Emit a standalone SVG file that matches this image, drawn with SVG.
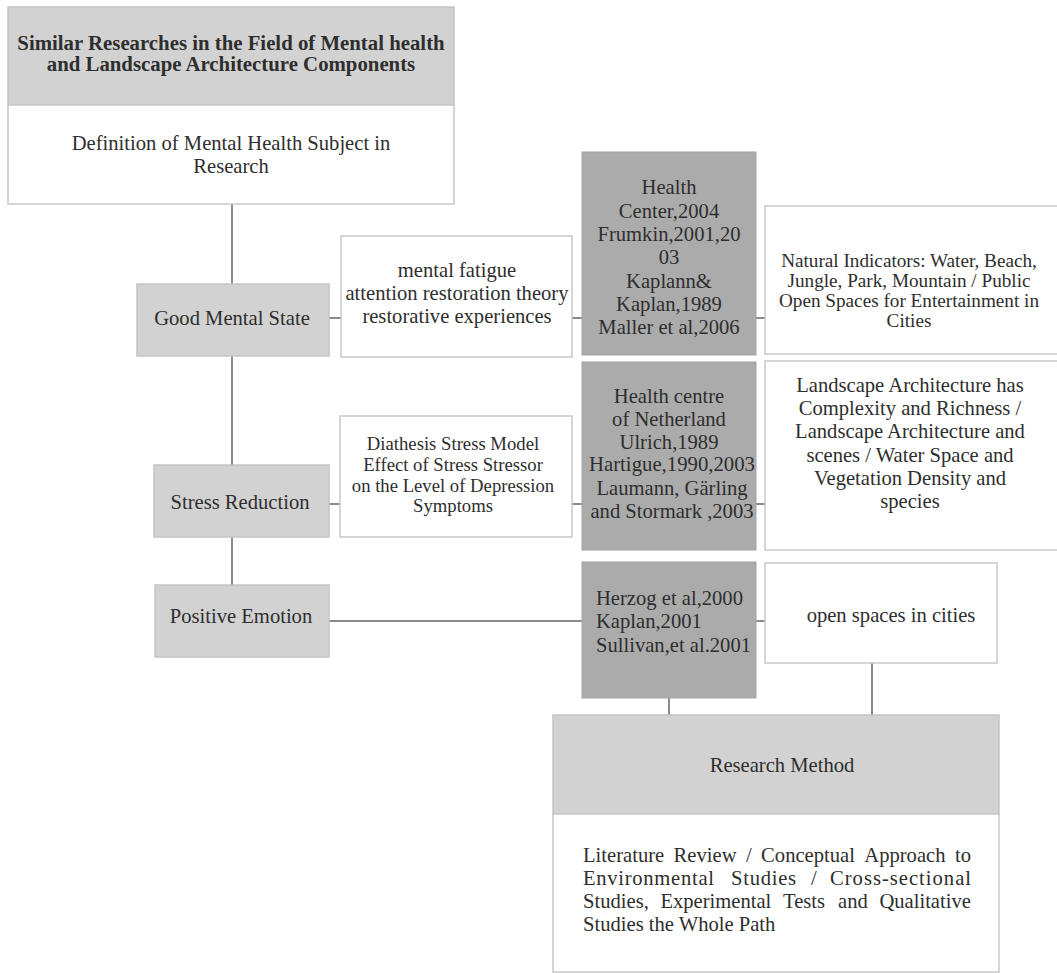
<svg xmlns="http://www.w3.org/2000/svg" width="1057" height="973" viewBox="0 0 1057 973">
<style>
text{font-family:"Liberation Serif","Times New Roman",serif;fill:#2e2e2e;font-size:20.6px}
.c{text-anchor:middle}
.b{font-weight:bold;font-size:20.8px}
.s{font-size:19.2px}
.m{font-size:18.7px}
.lg{fill:#d2d2d2;stroke:#c4c4c4;stroke-width:1.5}
.dg{fill:#ababab;stroke:#a4a4a4;stroke-width:1}
.wb{fill:#ffffff;stroke:#c8c8c8;stroke-width:1.5}
.ln{stroke:#8a8a8a;stroke-width:2;fill:none}
</style>
<rect width="1057" height="973" fill="#ffffff"/>
<g id="connectors">
<path class="ln" d="M232 204V284M232 356V465M232 537V585"/>
<path class="ln" d="M329 318H341M572 318H582M756 318H765"/>
<path class="ln" d="M329 504H340M572 504H582M756 504H765"/>
<path class="ln" d="M329 621H582M756 621H765"/>
<path class="ln" d="M669 698V715M872 663V715"/>
</g>
<g id="title">
<rect class="lg" x="8" y="7" width="446" height="98"/>
<text class="c b" x="231" y="50">Similar Researches in the Field of Mental health</text>
<text class="c b" x="231" y="71">and Landscape Architecture Components</text>
</g>
<g id="definition">
<rect class="wb" x="8" y="105" width="446" height="99"/>
<text class="c" x="231" y="150">Definition of Mental Health Subject in</text>
<text class="c" x="231" y="173">Research</text>
</g>
<g id="good-mental-state">
<rect class="lg" x="137" y="284" width="192" height="72"/>
<text class="c" x="232" y="325">Good Mental State</text>
</g>
<g id="stress-reduction">
<rect class="lg" x="154" y="465" width="175" height="72"/>
<text class="c" x="240" y="509">Stress Reduction</text>
</g>
<g id="positive-emotion">
<rect class="lg" x="155" y="585" width="174" height="72"/>
<text class="c" x="241" y="623">Positive Emotion</text>
</g>
<g id="mental-fatigue">
<rect class="wb" x="341" y="236" width="231" height="121"/>
<text class="c" x="457" y="277">mental fatigue</text>
<text class="c" x="457" y="300">attention restoration theory</text>
<text class="c" x="457" y="323">restorative experiences</text>
</g>
<g id="health-center">
<rect class="dg" x="582" y="152" width="174" height="203"/>
<text class="c" x="669" y="194">Health</text>
<text class="c" x="669" y="218">Center,2004</text>
<text class="c" x="669" y="241">Frumkin,2001,20</text>
<text class="c" x="669" y="264">03</text>
<text class="c" x="669" y="288">Kaplann&amp;</text>
<text class="c" x="669" y="311">Kaplan,1989</text>
<text class="c" x="669" y="334">Maller et al,2006</text>
</g>
<g id="natural-indicators">
<rect class="wb" x="765" y="206" width="300" height="148"/>
<text class="c s" x="909" y="267">Natural Indicators: Water, Beach,</text>
<text class="c s" x="909" y="287">Jungle, Park, Mountain / Public</text>
<text class="c s" x="909" y="307">Open Spaces  for Entertainment in</text>
<text class="c s" x="909" y="327">Cities</text>
</g>
<g id="diathesis">
<rect class="wb" x="340" y="416" width="232" height="121"/>
<text class="c m" x="453" y="450">Diathesis Stress Model</text>
<text class="c m" x="453" y="471">Effect of Stress Stressor</text>
<text class="c m" x="453" y="492">on the Level of Depression</text>
<text class="c m" x="453" y="512">Symptoms</text>
</g>
<g id="health-centre-netherland">
<rect class="dg" x="582" y="362" width="174" height="188"/>
<text class="c" x="669" y="403">Health centre</text>
<text class="c" x="669" y="426">of Netherland</text>
<text class="c" x="669" y="449">Ulrich,1989</text>
<text class="c" x="672" y="471" textLength="166" lengthAdjust="spacingAndGlyphs">Hartigue,1990,2003</text>
<text class="c" x="672" y="495">Laumann, Gärling</text>
<text class="c" x="672" y="518">and Stormark ,2003</text>
</g>
<g id="landscape">
<rect class="wb" x="765" y="361" width="300" height="189"/>
<text class="c" x="910" y="392">Landscape Architecture has</text>
<text class="c" x="910" y="415">Complexity and Richness /</text>
<text class="c" x="910" y="438">Landscape Architecture and</text>
<text class="c" x="910" y="462">scenes / Water Space and</text>
<text class="c" x="910" y="485">Vegetation Density and</text>
<text class="c" x="910" y="508">species</text>
</g>
<g id="herzog">
<rect class="dg" x="582" y="562" width="174" height="136"/>
<text x="596" y="605">Herzog et al,2000</text>
<text x="596" y="628">Kaplan,2001</text>
<text x="596" y="652">Sullivan,et al.2001</text>
</g>
<g id="open-spaces">
<rect class="wb" x="765" y="563" width="232" height="100"/>
<text class="c" x="891" y="622">open spaces in cities</text>
</g>
<g id="research-method">
<rect class="lg" x="553" y="715" width="446" height="99"/>
<text class="c" x="782" y="772">Research Method</text>
</g>
<g id="methods">
<rect class="wb" x="553" y="814" width="446" height="158"/>
<text y="862"><tspan x="583">Literature</tspan><tspan x="673.6">Review</tspan><tspan x="745.9">/</tspan><tspan x="761.1">Conceptual</tspan><tspan x="864.3">Approach</tspan><tspan x="955">to</tspan></text>
<text x="583" y="885" textLength="131">Environmental</text>
<text x="731" y="885" textLength="65">Studies</text>
<text x="811" y="885">/</text>
<text x="830" y="885" textLength="141">Cross-sectional</text>
<text y="908"><tspan x="583">Studies,</tspan><tspan x="660.4">Experimental</tspan><tspan x="783">Tests</tspan><tspan x="838.1">and</tspan><tspan x="879.4">Qualitative</tspan></text>
<text x="583" y="931">Studies the Whole Path</text>
</g>
</svg>
